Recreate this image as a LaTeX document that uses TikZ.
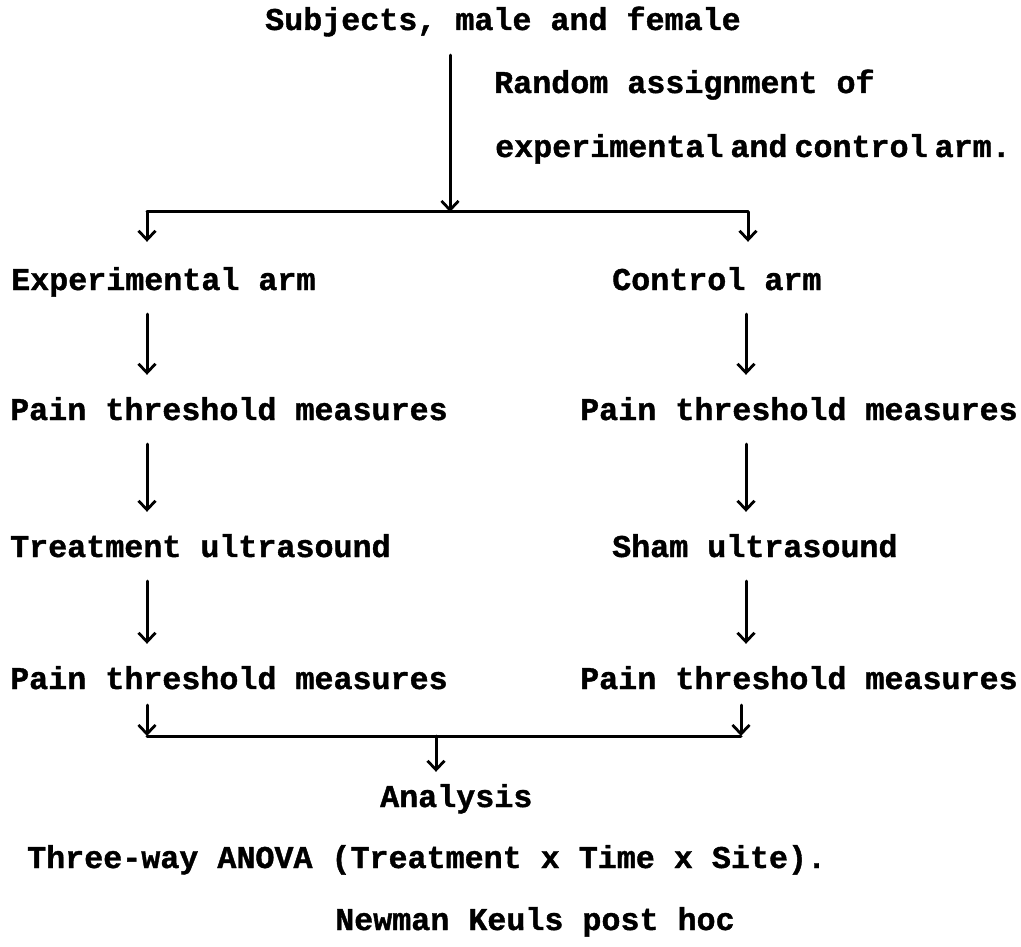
\documentclass[tikz,border=0pt]{standalone}
\usepackage{fontspec}
\newfontfamily\tw{Liberation Mono}[BoldFeatures={FakeBold=1.2}]
\usetikzlibrary{arrows.meta}
\begin{document}
\begin{tikzpicture}[x=1pt,y=-1pt,
  lbl/.style={anchor=base west,inner sep=0pt,text height=20pt,text depth=6pt,
    font=\tw\bfseries\fontsize{31.7}{38}\selectfont},
  conn/.style={line width=3pt,line cap=round},
  arr/.style={conn,-{Straight Barb[length=9pt,width=17pt,line width=2.8pt]}},
  stepgap/.style={shorten <=18pt,shorten >=25pt}]
\useasboundingbox (0,0) rectangle (1021,947);

% texts
\node[lbl] (subj) at (265,30) {Subjects, male and female};
\node[lbl] (rand1) at (494,93) {Random assignment of};
\node[lbl] (rand2) at (495,157) {experimental\hspace{7pt}and\hspace{7pt}control\hspace{7pt}arm.};

\node[lbl] (expL) at (11,290) {Experimental arm};
\node[lbl] (ctlR) at (612,290) {Control arm};
\node[lbl] (pain1L) at (10,420) {Pain threshold measures};
\node[lbl] (pain1R) at (580,420) {Pain threshold measures};
\node[lbl] (trtL) at (10,557) {Treatment ultrasound};
\node[lbl] (trtR) at (612,557) {Sham ultrasound};
\node[lbl] (pain2L) at (10,689) {Pain threshold measures};
\node[lbl] (pain2R) at (580,689) {Pain threshold measures};

\node[lbl] (ana) at (380,807) {Analysis};
\node[lbl] (anova) at (27,868) {Three-way ANOVA (Treatment x Time x Site).};
\node[lbl] (nk) at (335,930) {Newman Keuls post hoc};

% column coordinates
\coordinate (colL) at (147,0);
\coordinate (colR) at (746,0);
\coordinate (split) at (450,212);
\coordinate (splitL) at (147,212);
\coordinate (splitR) at (748,212);
\coordinate (joinL) at (147,736);
\coordinate (joinR) at (741,736);
\coordinate (join) at (436,736);

% top split
\draw[arr,shorten <=19pt] (subj.south -| split) -- (split);
\draw[conn] (splitL) -- (splitR);
\draw[arr,shorten >=28pt] (splitL) -- (expL.north -| splitL);
\draw[arr,shorten >=28pt] (splitR) -- (ctlR.north -| splitR);

% left column
\draw[arr,stepgap] (expL.south -| colL) -- (pain1L.north -| colL);
\draw[arr,stepgap] (pain1L.south -| colL) -- (trtL.north -| colL);
\draw[arr,stepgap] (trtL.south -| colL) -- (pain2L.north -| colL);

% right column
\draw[arr,stepgap] (ctlR.south -| colR) -- (pain1R.north -| colR);
\draw[arr,stepgap] (pain1R.south -| colR) -- (trtR.north -| colR);
\draw[arr,stepgap] (trtR.south -| colR) -- (pain2R.north -| colR);

% bottom join
\draw[arr,shorten <=10pt] (pain2L.south -| joinL) -- (joinL);
\draw[arr,shorten <=10pt] (pain2R.south -| joinR) -- (joinR);
\draw[conn] (joinL) -- (joinR);
\draw[arr,shorten >=15pt] (join) -- (ana.north -| join);
\end{tikzpicture}
\end{document}
